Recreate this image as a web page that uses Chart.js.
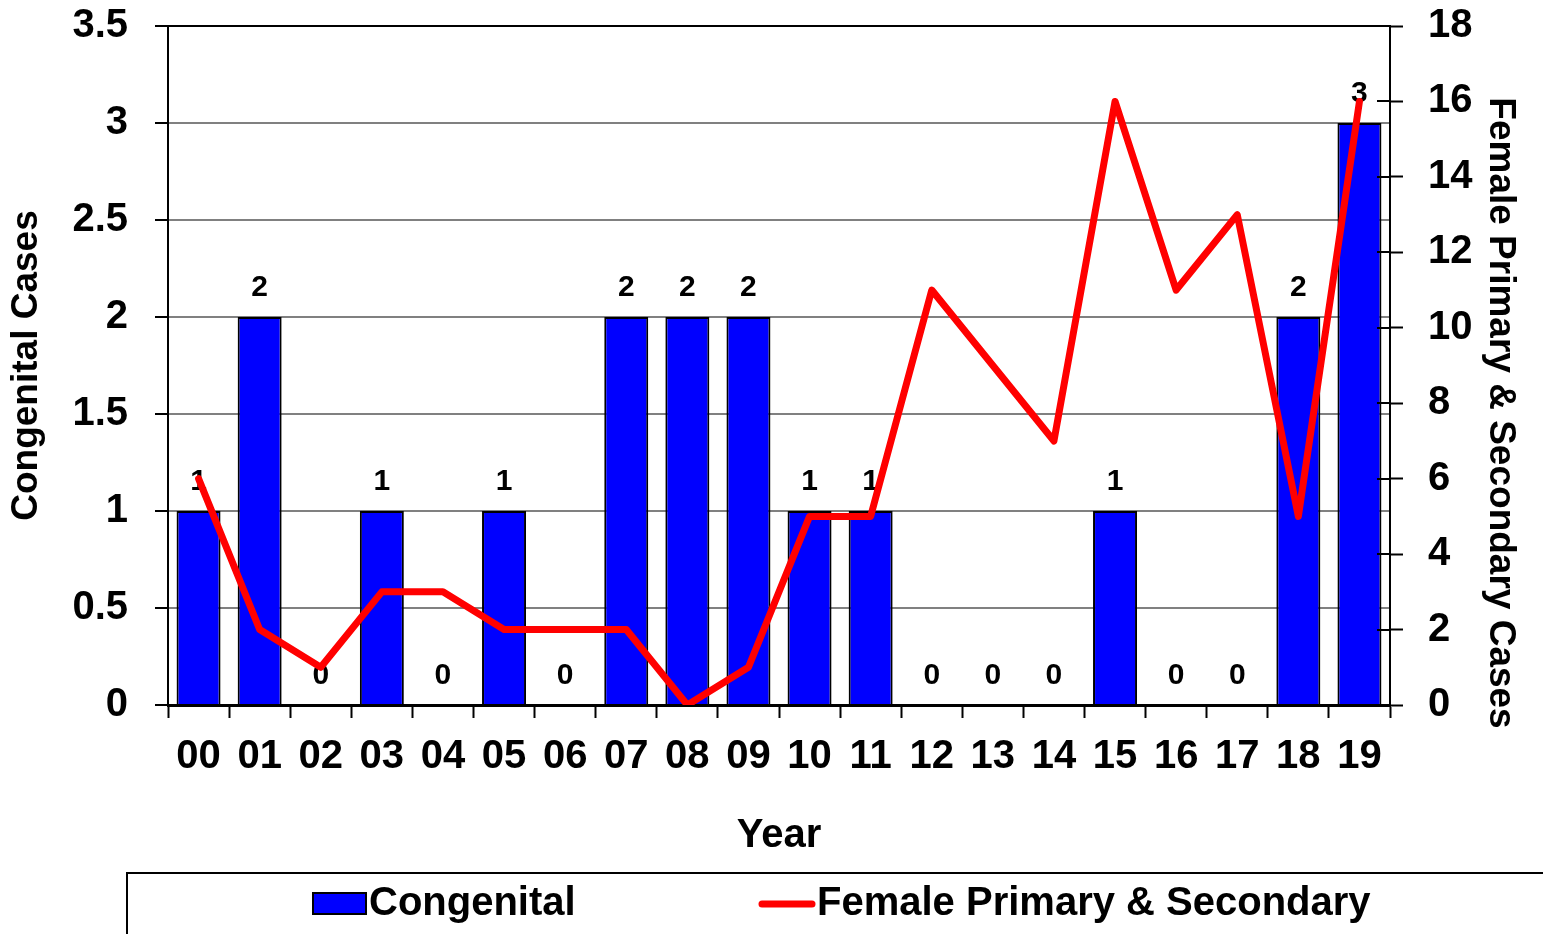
<!DOCTYPE html>
<html><head><meta charset="utf-8">
<script src="https://cdn.jsdelivr.net/npm/chart.js@4.4.1/dist/chart.umd.min.js"></script>
<style>html,body{margin:0;padding:0;background:#fff;overflow:hidden}</style>
</head><body>
<canvas id="c" width="1543" height="934" style="display:block;width:1543px;height:934px"></canvas>
<script>
const years = ['00','01','02','03','04','05','06','07','08','09','10','11','12','13','14','15','16','17','18','19'];
const congenital = [1,2,0,1,0,1,0,2,2,2,1,1,0,0,0,1,0,0,2,3];
const femalePS = [6,2,1,3,3,2,2,2,0,1,5,5,11,9,7,16,11,13,5,16];
const leftAxis = {min: 0, max: 3.5, step: 0.5};
const rightAxis = {min: 0, max: 18, step: 2};
const labels = {
  left: 'Congenital Cases',
  right: 'Female Primary & Secondary Cases',
  x: 'Year',
  bar: 'Congenital',
  line: 'Female Primary & Secondary'
};

const FONT = "'Liberation Sans', Arial, sans-serif";
Chart.defaults.font.family = FONT;
Chart.defaults.color = '#000';

function noPad(s) { s.paddingTop = 0; s.paddingBottom = 0; s.paddingLeft = 0; s.paddingRight = 0; }

const extras = {
  id: 'extras',
  afterDatasetDraw(chart, args) {
    if (args.index !== 0) return;
    const ctx = chart.ctx;
    const meta = chart.getDatasetMeta(0);
    ctx.save();
    ctx.font = "bold 30px " + FONT;
    ctx.fillStyle = '#000';
    ctx.textAlign = 'center';
    ctx.textBaseline = 'middle';
    meta.data.forEach((bar, i) => {
      ctx.fillText(String(congenital[i]), bar.x, bar.y - 29);
    });
    ctx.restore();
  },
  afterDraw(chart) {
    const ctx = chart.ctx;
    const area = chart.chartArea;
    const y1 = chart.scales.y1;
    ctx.save();
    ctx.strokeStyle = '#000';
    ctx.lineWidth = 2;
    y1.ticks.forEach((t, i) => {
      const p = Math.round(y1.getPixelForTick(i));
      ctx.beginPath();
      ctx.moveTo(area.right - 13, p);
      ctx.lineTo(area.right, p);
      ctx.stroke();
    });
    ctx.font = "bold 37px " + FONT;
    ctx.fillStyle = '#000';
    ctx.textAlign = 'center';
    ctx.textBaseline = 'middle';
    ctx.translate(1500, 413);
    ctx.rotate(Math.PI / 2);
    ctx.fillText(labels.right, 0, 0);
    ctx.restore();

    ctx.save();
    ctx.strokeStyle = '#000';
    ctx.lineWidth = 2;
    ctx.strokeRect(127, 873, 1440, 80);
    ctx.fillStyle = '#0000FF';
    ctx.fillRect(313, 893, 53, 21);
    ctx.strokeRect(313, 893, 53, 21);
    ctx.font = "bold 40px " + FONT;
    ctx.fillStyle = '#000';
    ctx.textAlign = 'left';
    ctx.textBaseline = 'middle';
    ctx.fillText(labels.bar, 369, 904);
    ctx.strokeStyle = '#FF0000';
    ctx.lineWidth = 7;
    ctx.lineCap = 'round';
    ctx.beginPath();
    ctx.moveTo(762, 904);
    ctx.lineTo(812, 904);
    ctx.stroke();
    ctx.fillText(labels.line, 817, 904);
    ctx.restore();
  }
};

new Chart(document.getElementById('c'), {
  type: 'bar',
  data: {
    labels: years,
    datasets: [
      {
        type: 'bar',
        label: labels.bar,
        data: congenital,
        yAxisID: 'y',
        backgroundColor: '#0000FF',
        borderColor: '#000',
        borderWidth: 2,
        barPercentage: 0.72,
        categoryPercentage: 1,
        order: 1
      },
      {
        type: 'line',
        label: labels.line,
        data: femalePS,
        yAxisID: 'y1',
        borderColor: '#FF0000',
        borderWidth: 7,
        pointRadius: 0,
        pointHoverRadius: 0,
        tension: 0,
        borderJoinStyle: 'round',
        borderCapStyle: 'round',
        order: 0
      }
    ]
  },
  options: {
    responsive: false,
    animation: false,
    devicePixelRatio: 1,
    layout: {padding: {top: 26, bottom: 74, left: 0, right: 0}},
    plugins: {legend: {display: false}, tooltip: {enabled: false}},
    scales: {
      x: {
        grid: {offset: true, drawOnChartArea: false, drawTicks: true, tickLength: 13, tickColor: '#000', tickWidth: 2},
        border: {color: '#000', width: 3},
        ticks: {font: {size: 40, weight: 'bold'}, padding: 15, maxRotation: 0, autoSkip: false, color: '#000'},
        title: {display: true, text: labels.x, font: {size: 40, weight: 'bold'}, padding: {top: 0, bottom: 0}, color: '#000'},
        afterFit(s) { s.height = 155; noPad(s); }
      },
      y: {
        position: 'left',
        min: leftAxis.min, max: leftAxis.max,
        grid: {
          color: c => (c.tick && (c.tick.value === leftAxis.max || c.tick.value === 0)) ? '#000' : '#808080',
          lineWidth: 2, tickLength: 13, tickColor: '#000', tickWidth: 2
        },
        border: {color: '#000', width: 2},
        ticks: {stepSize: leftAxis.step, font: {size: 40, weight: 'bold'}, padding: 27, color: '#000', callback: v => String(+v)},
        title: {display: true, text: labels.left, font: {size: 37, weight: 'bold'}, padding: {top: 5, bottom: 0}, color: '#000'},
        afterFit(s) { s.width = 168; noPad(s); }
      },
      y1: {
        position: 'right',
        min: rightAxis.min, max: rightAxis.max,
        grid: {drawOnChartArea: false, tickLength: 13, tickColor: '#000', tickWidth: 2},
        border: {color: '#000', width: 2},
        ticks: {stepSize: rightAxis.step, font: {size: 40, weight: 'bold'}, padding: 25, color: '#000', callback: v => String(+v)},
        title: {display: false},
        afterFit(s) { s.width = 153; noPad(s); }
      }
    }
  },
  plugins: [extras]
});
</script>
</body></html>
